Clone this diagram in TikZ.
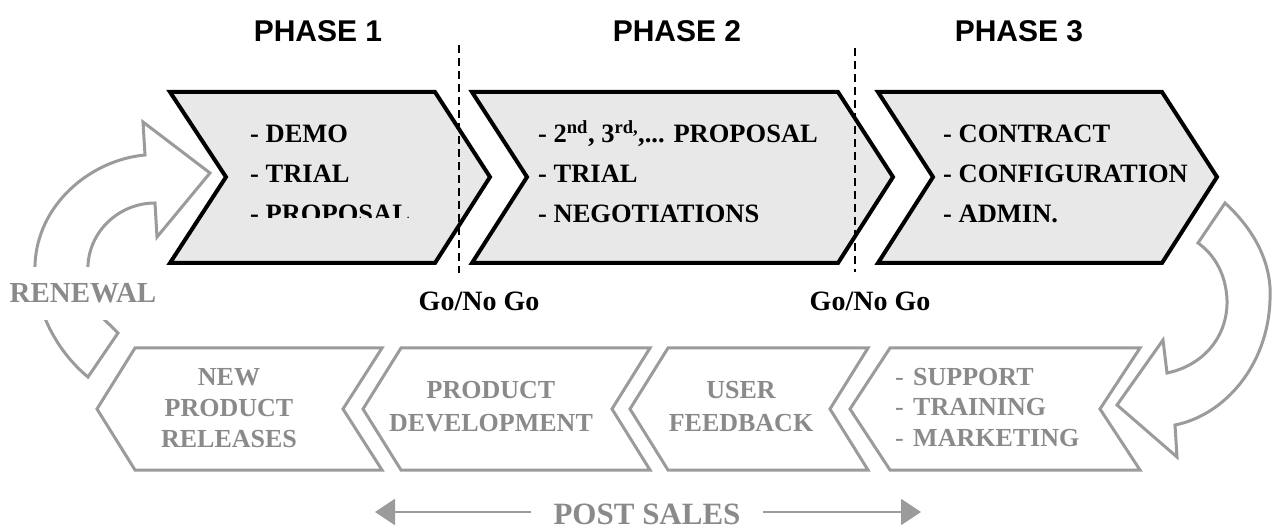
\documentclass[tikz,border=0pt]{standalone}
\usepackage{fontspec}
\setmainfont{Liberation Serif}
\newfontfamily\headfont{Liberation Sans}
\usetikzlibrary{arrows.meta}

\definecolor{chevfill}{RGB}{232,232,232}
\definecolor{cyclegray}{RGB}{155,155,155}
\definecolor{labelgray}{RGB}{138,138,138}

\begin{document}
\begin{tikzpicture}[x=1pt,y=-1pt,
  phasechev/.style={draw=black, line width=4pt, fill=chevfill, line join=miter},
  postchev/.style={draw=cyclegray, line width=3pt, fill=white, line join=miter},
  cyclearrow/.style={draw=cyclegray, line width=3pt, fill=white, line join=miter},
  gate/.style={draw=black, line width=1.5pt, dash pattern=on 8pt off 5pt},
  phaselabel/.style={font=\headfont\bfseries\fontsize{30}{36}\selectfont, anchor=base, inner sep=0pt},
  itemtext/.style={font=\bfseries\fontsize{26.5}{32}\selectfont, anchor=base west, inner sep=0pt},
  gatetext/.style={font=\bfseries\fontsize{28}{34}\selectfont, anchor=base, inner sep=0pt},
  posttext/.style={font=\bfseries\fontsize{26}{30}\selectfont, text=labelgray, anchor=base, inner sep=0pt},
  postlist/.style={font=\bfseries\fontsize{26}{30}\selectfont, text=labelgray, anchor=base west, inner sep=0pt},
  postdash/.style={font=\fontsize{26}{30}\selectfont, text=labelgray, anchor=base west, inner sep=0pt},
  postarrow/.style={draw=cyclegray, line width=2.5pt, -{Triangle[length=20pt,width=26pt]}},
]
\useasboundingbox (0,0) rectangle (1272,529);

% ---------- phase headings ----------
\node[phaselabel] (ph1) at (318,42) {PHASE 1};
\node[phaselabel] (ph2) at (677,42) {PHASE 2};
\node[phaselabel] (ph3) at (1019,42) {PHASE 3};

% ---------- sales phases (right-pointing chevrons) ----------
\draw[phasechev] (170,92) -- (435,92) -- (490,177) -- (435,263) -- (170,263) -- (226,177) -- cycle;
\draw[phasechev] (472,92) -- (838,92) -- (893,177) -- (838,263) -- (472,263) -- (527,177) -- cycle;
\draw[phasechev] (878,92) -- (1162,92) -- (1217,177) -- (1162,263) -- (878,263) -- (933,177) -- cycle;

% phase 1 items (last line cut at its lower edge)
\node[itemtext] (p1a) at (250,143) {- DEMO};
\node[itemtext] (p1b) at (250,183) {- TRIAL};
\begin{scope}
  \clip (170,92) rectangle (490,218);
  \node[itemtext] (p1c) at (250,223) {- PROPOSAL};
\end{scope}

% phase 2 items
\node[itemtext] (p2a) at (538,143) {- 2\textsuperscript{nd}, 3\textsuperscript{rd,},... PROPOSAL};
\node[itemtext] (p2b) at (538,183) {- TRIAL};
\node[itemtext] (p2c) at (538,223) {- NEGOTIATIONS};

% phase 3 items
\node[itemtext] (p3a) at (943,143) {- CONTRACT};
\node[itemtext] (p3b) at (943,183) {- CONFIGURATION};
\node[itemtext] (p3c) at (943,223) {- ADMIN.};

% ---------- decision gates ----------
\coordinate (g1top) at (459,45);
\coordinate (g1bot) at (459,273);
\coordinate (g2top) at (855,48);
\coordinate (g2bot) at (855,272);
\draw[gate] (g1top) -- (g1bot);
\draw[gate] (g2top) -- (g2bot);
\node[gatetext] (go1) at (479,311) {Go/No Go};
\node[gatetext] (go2) at (870,311) {Go/No Go};

% ---------- renewal arrow (bottom left, curving up into phase 1) ----------
\draw[cyclearrow] (88,377)
  .. controls (55,350) and (33,305) .. (35,265)
  .. controls (37,205) and (90,160) .. (145,155)
  -- (143,122) -- (210,173) -- (157,237) -- (155,203)
  .. controls (120,203) and (90,230) .. (88,265)
  .. controls (86,295) and (95,312) .. (110,325)
  -- (118,333) -- cycle;
\node[font=\bfseries\fontsize{29}{34}\selectfont, text=labelgray, anchor=base,
      fill=white, inner xsep=2pt, inner ysep=17pt] (renew) at (83,303) {RENEWAL};

% ---------- hand-over arrow (phase 3 down into post sales) ----------
\draw[cyclearrow] (1225,203)
  .. controls (1260,235) and (1272,270) .. (1270,300)
  .. controls (1268,365) and (1225,415) .. (1175,425)
  -- (1177,457) -- (1117,405) -- (1163,340) -- (1167,373)
  .. controls (1205,365) and (1228,335) .. (1227,300)
  .. controls (1226,275) and (1215,255) .. (1198,243)
  -- cycle;

% ---------- post-sales stages (left-pointing chevrons) ----------
\draw[postchev] (97,409) -- (135,348) -- (382,348) -- (343,409) -- (382,470) -- (135,470) -- cycle;
\draw[postchev] (363,409) -- (401,348) -- (650,348) -- (612,409) -- (650,470) -- (401,470) -- cycle;
\draw[postchev] (630,409) -- (668,348) -- (868,348) -- (830,409) -- (868,470) -- (668,470) -- cycle;
\draw[postchev] (850,409) -- (890,348) -- (1140,348) -- (1100,409) -- (1140,470) -- (890,470) -- cycle;

\node[posttext] (s1a) at (229,385) {NEW};
\node[posttext] (s1b) at (229,416) {PRODUCT};
\node[posttext] (s1c) at (229,447) {RELEASES};

\node[posttext] (s2a) at (491,398) {PRODUCT};
\node[posttext] (s2b) at (491,431) {DEVELOPMENT};

\node[posttext] (s3a) at (741,398) {USER};
\node[posttext] (s3b) at (741,431) {FEEDBACK};

\node[postdash] (s4d1) at (895,385) {-};
\node[postdash] (s4d2) at (895,415) {-};
\node[postdash] (s4d3) at (895,446) {-};
\node[postlist] (s4a) at (913,385) {SUPPORT};
\node[postlist] (s4b) at (913,415) {TRAINING};
\node[postlist] (s4c) at (913,446) {MARKETING};

% ---------- post sales span ----------
\node[font=\bfseries\fontsize{31}{37}\selectfont, text=labelgray, anchor=base,
      inner xsep=22pt, inner ysep=0pt] (ps) at (647,524) {POST SALES};
\coordinate (psl) at (375,512);
\coordinate (psr) at (921,512);
\draw[postarrow] (ps.west |- psl) -- (psl);
\draw[postarrow] (ps.east |- psr) -- (psr);

\end{tikzpicture}
\end{document}
